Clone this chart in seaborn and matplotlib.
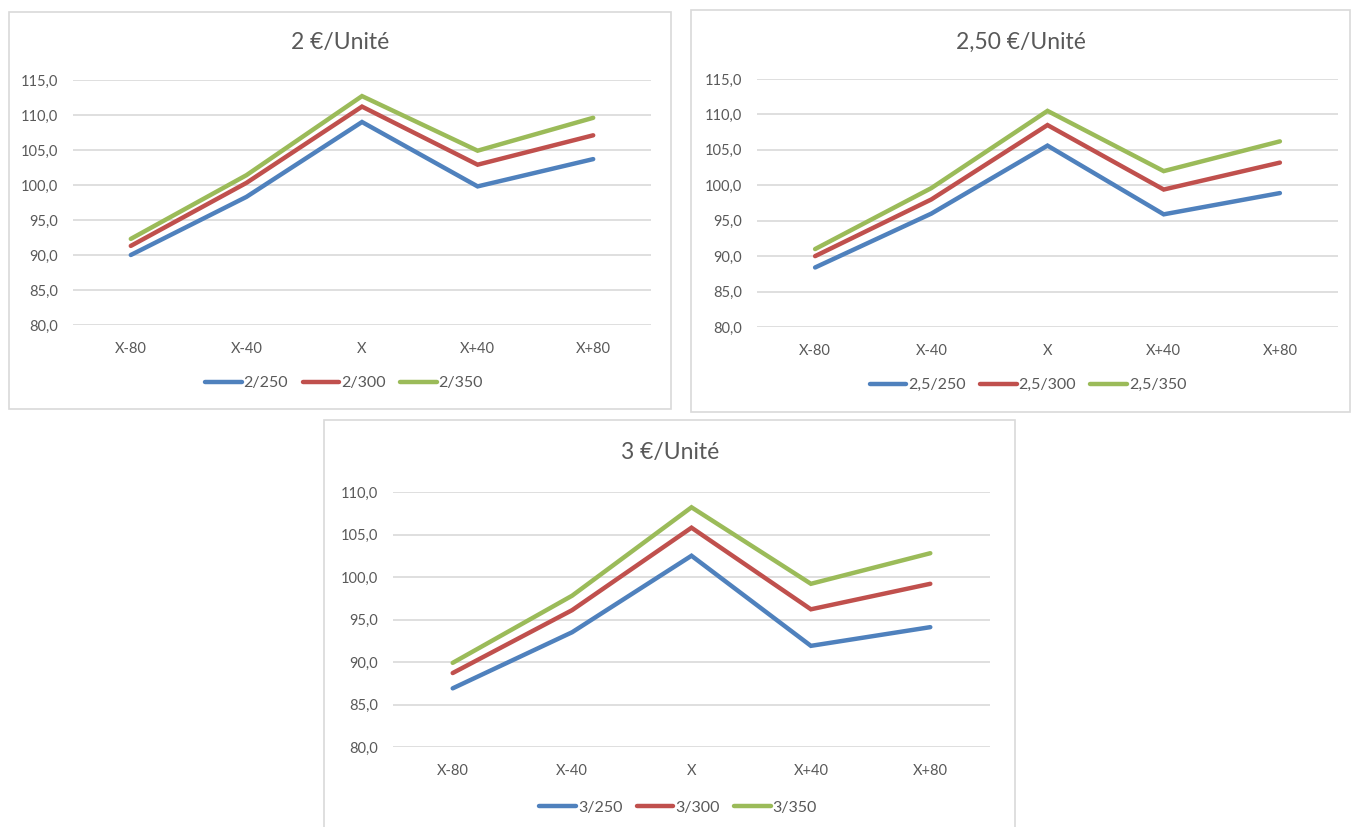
import matplotlib
matplotlib.use("Agg")
import matplotlib.pyplot as plt
from matplotlib.patches import Rectangle
from matplotlib.ticker import FuncFormatter, MultipleLocator
from matplotlib.lines import Line2D
import pandas as pd
import seaborn as sns

sns.set_theme(style="white")
plt.rcParams["font.family"] = ["Lato", "DejaVu Sans"]

categories = ["X-80", "X-40", "X", "X+40", "X+80"]

# 2 €/Unité
s2_250 = [90.0, 98.3, 109.0, 99.8, 103.7]
s2_300 = [91.3, 100.3, 111.2, 102.9, 107.1]
s2_350 = [92.3, 101.4, 112.7, 104.9, 109.6]

# 2,50 €/Unité
s25_250 = [88.4, 96.0, 105.6, 95.9, 98.9]
s25_300 = [90.0, 98.0, 108.5, 99.4, 103.2]
s25_350 = [91.0, 99.6, 110.5, 102.0, 106.2]

# 3 €/Unité
s3_250 = [86.9, 93.5, 102.5, 91.9, 94.1]
s3_300 = [88.7, 96.1, 105.8, 96.2, 99.2]
s3_350 = [89.9, 97.8, 108.2, 99.2, 102.8]

titles = ["2 €/Unité", "2,50 €/Unité", "3 €/Unité"]
labels = [["2/250", "2/300", "2/350"],
          ["2,5/250", "2,5/300", "2,5/350"],
          ["3/250", "3/300", "3/350"]]
series = [[s2_250, s2_300, s2_350],
          [s25_250, s25_300, s25_350],
          [s3_250, s3_300, s3_350]]
y_ranges = [(80, 115), (80, 115), (80, 110)]

colors = ["#4F81BD", "#C0504D", "#9BBB59"]
text_color = "#595959"
grid_color = "#D9D9D9"

W, H = 1351, 827
fig = plt.figure(figsize=(W / 100, H / 100), dpi=100)
fig.patch.set_facecolor("white")


def fx(px):
    return px / W


def fy(py):
    return 1 - py / H


# panel layout in pixels: frame box, plot box, title pos, legend centre
panels = [
    dict(frame=(9, 12, 671, 409), plot=(73, 80, 651, 325), title=(340, 43), legend=(344, 383)),
    dict(frame=(691, 10, 1350, 412), plot=(757, 79, 1338, 327), title=(1021, 42), legend=(1028, 385)),
    dict(frame=(324, 420, 1015, 830), plot=(393, 492, 990, 747), title=(670, 452), legend=(678, 808)),
]

comma_fmt = FuncFormatter(lambda v, p: f"{v:.1f}".replace(".", ","))

for i, pan in enumerate(panels):
    x0, y0, x1, y1 = pan["frame"]
    fig.patches.append(Rectangle((fx(x0), fy(y1)), fx(x1 - x0), (y1 - y0) / H,
                                 transform=fig.transFigure, fill=False,
                                 edgecolor=grid_color, linewidth=1.2))
    px0, py0, px1, py1 = pan["plot"]
    ax = fig.add_axes([fx(px0), fy(py1), fx(px1 - px0), (py1 - py0) / H])

    rows = []
    for lab, vals in zip(labels[i], series[i]):
        for c, v in zip(categories, vals):
            rows.append({"cat": c, "val": v, "serie": lab})
    df = pd.DataFrame(rows)
    sns.lineplot(data=df, x="cat", y="val", hue="serie", palette=colors,
                 linewidth=3.2, sort=False, ax=ax, legend=False)
    for ln in ax.lines:
        ln.set_solid_capstyle("round")
        ln.set_solid_joinstyle("miter")
        ln.set_clip_on(False)

    ax.set_xlim(-0.5, 4.5)
    ax.set_ylim(*y_ranges[i])
    ax.yaxis.set_major_locator(MultipleLocator(5))
    ax.yaxis.set_major_formatter(comma_fmt)
    ax.grid(axis="y", color=grid_color, linewidth=1.2)
    ax.set_axisbelow(True)
    for sp in ax.spines.values():
        sp.set_visible(False)
    ax.tick_params(axis="y", length=0, pad=11, labelsize=10.5, labelcolor=text_color)
    ax.tick_params(axis="x", length=0, pad=12, labelsize=10.5, labelcolor=text_color)
    ax.set_xlabel("")
    ax.set_ylabel("")
    ax.set_facecolor("none")

    tx, ty = pan["title"]
    fig.text(fx(tx), fy(ty), titles[i], ha="center", va="center",
             fontsize=16.5, color=text_color)

    handles = [Line2D([0], [0], color=c, linewidth=3.2, solid_capstyle="round")
               for c in colors]
    lx, ly = pan["legend"]
    fig.legend(handles, labels[i], loc="center", bbox_to_anchor=(fx(lx), fy(ly)),
               ncol=3, frameon=False, fontsize=11.5, labelcolor=text_color,
               handlelength=2.3, handletextpad=0.1, columnspacing=0.9,
               borderaxespad=0)

fig.savefig("out.png", dpi=100, facecolor="white")
